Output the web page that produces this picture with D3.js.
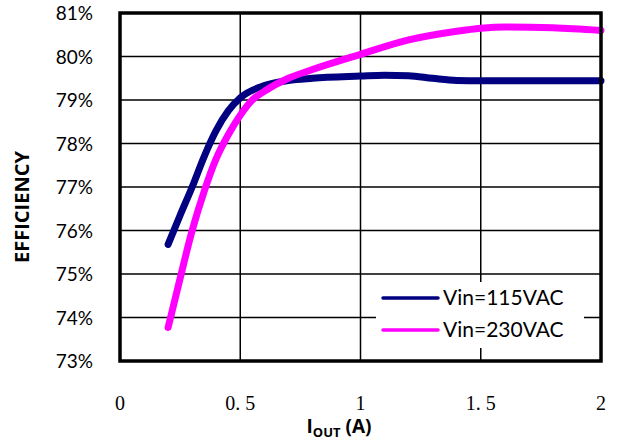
<!DOCTYPE html>
<html>
<head>
<meta charset="utf-8">
<script src="https://cdn.jsdelivr.net/npm/d3@7"></script>
<style>
  body { margin: 0; background: #fff; }
  svg { display: block; }
</style>
</head>
<body>
<div id="chart"></div>
<script>
var width = 617, height = 444;

// data
var current115 = [0.2, 0.25, 0.3, 0.35, 0.4, 0.45, 0.5, 0.6, 0.7, 0.8, 1.0, 1.1, 1.2, 1.3, 1.4, 1.5, 1.6, 1.8, 2.0];
var eff115 = [75.68, 76.35, 77.0, 77.7, 78.3, 78.75, 79.05, 79.33, 79.45, 79.5, 79.55, 79.57, 79.56, 79.5, 79.45, 79.44, 79.44, 79.44, 79.44];
var current230 = [0.2, 0.25, 0.3, 0.35, 0.4, 0.45, 0.5, 0.55, 0.6, 0.7, 0.8, 1.0, 1.2, 1.4, 1.5, 1.6, 1.8, 2.0];
var eff230 = [73.77, 74.9, 76.0, 76.9, 77.65, 78.2, 78.65, 79.0, 79.2, 79.5, 79.7, 80.05, 80.38, 80.58, 80.65, 80.68, 80.66, 80.6];
var xTicks = [0, 0.5, 1, 1.5, 2];
var xTickLabels = ['0', '0. 5', '1', '1. 5', '2'];
var yTicks = [73, 74, 75, 76, 77, 78, 79, 80, 81];
var seriesNames = ['Vin=115VAC', 'Vin=230VAC'];
var seriesColors = ['#000080', '#ff00ff'];

var plotLeft = 120, plotRight = 601, plotTop = 13, plotBottom = 361;

var svg = d3.select('#chart').append('svg')
    .attr('width', width)
    .attr('height', height);

var x = d3.scaleLinear().domain([0, 2]).range([plotLeft, plotRight]);
var y = d3.scaleLinear().domain([73, 81]).range([plotBottom, plotTop]);

// gridlines
svg.append('g')
    .selectAll('line')
    .data(yTicks)
    .join('line')
    .attr('x1', plotLeft).attr('x2', plotRight)
    .attr('y1', d => y(d)).attr('y2', d => y(d))
    .attr('stroke', '#000').attr('stroke-width', 1.5);

svg.append('g')
    .selectAll('line')
    .data(xTicks.slice(1, -1))
    .join('line')
    .attr('x1', d => x(d)).attr('x2', d => x(d))
    .attr('y1', plotTop).attr('y2', plotBottom)
    .attr('stroke', '#000').attr('stroke-width', 1.5);

// y tick labels
svg.append('g')
    .selectAll('text')
    .data(yTicks)
    .join('text')
    .attr('x', 93)
    .attr('y', d => y(d) + 7)
    .attr('text-anchor', 'end')
    .style('font-family', 'Lato, "Open Sans", sans-serif')
    .style('font-size', '19px')
    .text(d => d + '%');

// x tick labels
svg.append('g')
    .selectAll('text')
    .data(xTicks)
    .join('text')
    .attr('x', d => x(d))
    .attr('y', 410)
    .attr('text-anchor', 'middle')
    .style('font-family', '"Liberation Serif", serif')
    .style('font-size', '20px')
    .text((d, i) => xTickLabels[i]);

// lines
var line = d3.line()
    .x(d => x(d[0]))
    .y(d => y(d[1]))
    .curve(d3.curveMonotoneX);

var series = [
    d3.zip(current115, eff115),
    d3.zip(current230, eff230)
];

series.forEach((pts, i) => {
    svg.append('path')
        .attr('d', line(pts))
        .attr('fill', 'none')
        .attr('stroke', seriesColors[i])
        .attr('stroke-width', 7)
        .attr('stroke-linecap', 'round')
        .attr('stroke-linejoin', 'round');
});

// legend
var legend = svg.append('g');
legend.append('rect')
    .attr('x', 376).attr('y', 282)
    .attr('width', 208).attr('height', 66)
    .attr('fill', '#fff');

seriesNames.forEach((name, i) => {
    var ly = 298 + i * 32;
    legend.append('line')
        .attr('x1', 383).attr('x2', 438)
        .attr('y1', ly).attr('y2', ly)
        .attr('stroke', seriesColors[i])
        .attr('stroke-width', 3.5)
        .attr('stroke-linecap', 'round');
    legend.append('text')
        .attr('x', 443)
        .attr('y', ly + 7)
        .style('font-family', 'Lato, "Open Sans", sans-serif')
        .style('font-size', '21px')
        .text(name);
});

// frame
svg.append('rect')
    .attr('x', plotLeft).attr('y', plotTop)
    .attr('width', plotRight - plotLeft).attr('height', plotBottom - plotTop)
    .attr('fill', 'none')
    .attr('stroke', '#000')
    .attr('stroke-width', 3.5);

// axis titles
var xt = svg.append('text')
    .attr('x', 339)
    .attr('y', 433)
    .attr('text-anchor', 'middle')
    .style('font-family', '"Open Sans", sans-serif')
    .style('font-weight', 'bold')
    .style('font-size', '19px');
xt.append('tspan').text('I');
xt.append('tspan').attr('dy', 4).style('font-size', '13px').text('OUT');
xt.append('tspan').attr('dy', -4).text(' (A)');

svg.append('text')
    .attr('transform', 'translate(29,207) rotate(-90)')
    .attr('text-anchor', 'middle')
    .style('font-family', '"Open Sans", sans-serif')
    .style('font-weight', 'bold')
    .style('font-size', '20px')
    .text('EFFICIENCY');
</script>
</body>
</html>
